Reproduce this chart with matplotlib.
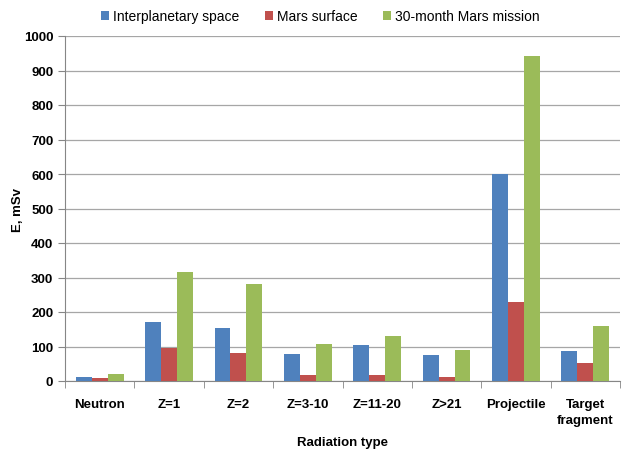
import numpy as np
import matplotlib.pyplot as plt
from matplotlib.ticker import FixedLocator

plt.rcParams['font.family'] = ['Liberation Sans', 'DejaVu Sans']

categories = ['Neutron', 'Z=1', 'Z=2', 'Z=3-10', 'Z=11-20', 'Z>21', 'Projectile', 'Target\nfragment']
interplanetary = [12, 172, 155, 79, 105, 75, 600, 87]
mars_surface = [9, 95, 81, 16, 17, 11, 228, 51]
mission_30 = [21, 316, 281, 107, 131, 90, 942, 159]

series = [
    ('Interplanetary space', interplanetary, '#4F81BD'),
    ('Mars surface', mars_surface, '#C0504D'),
    ('30-month Mars mission', mission_30, '#9BBB59'),
]

fig = plt.figure(figsize=(6.22, 4.52), dpi=100)
ax = fig.add_axes([65 / 622, 70 / 452, 555 / 622, 345 / 452])

x = np.arange(len(categories))
w = 0.23
for i, (name, vals, col) in enumerate(series):
    ax.bar(x + (i - 1) * w, vals, w, color=col, label=name, zorder=3)

ax.set_xlim(-0.5, len(categories) - 0.5)
ax.set_ylim(0, 1000)
ax.set_yticks(range(0, 1001, 100))
ax.yaxis.grid(True, color='#A6A6A6', linewidth=0.9, zorder=0)

ax.set_xticks(x)
ax.set_xticklabels(categories, fontsize=9.5, fontweight='bold', linespacing=1.45)
ax.xaxis.set_minor_locator(FixedLocator(np.arange(-0.5, len(categories), 1.0)))
ax.tick_params(axis='x', which='major', length=0, pad=12)
ax.tick_params(axis='x', which='minor', length=5, color='#868686')
ax.tick_params(axis='y', length=5, color='#868686', labelsize=9.5)
for lab in ax.get_yticklabels():
    lab.set_fontweight('bold')

for s in ['top', 'right']:
    ax.spines[s].set_visible(False)
for s in ['left', 'bottom']:
    ax.spines[s].set_color('#868686')

ax.set_ylabel('E, mSv', fontsize=9.5, fontweight='bold', va='center')
ax.yaxis.set_label_coords(-0.085, 0.5)
ax.set_xlabel('Radiation type', fontsize=9.5, fontweight='bold', va='center')
ax.xaxis.set_label_coords(0.5, -0.177)

fig.legend(loc='upper center', bbox_to_anchor=(0.515, 1.005), ncol=3, frameon=False,
           fontsize=10, handlelength=0.6, handleheight=0.6, handletextpad=0.3,
           columnspacing=1.8)

fig.savefig('out.png', dpi=100)
